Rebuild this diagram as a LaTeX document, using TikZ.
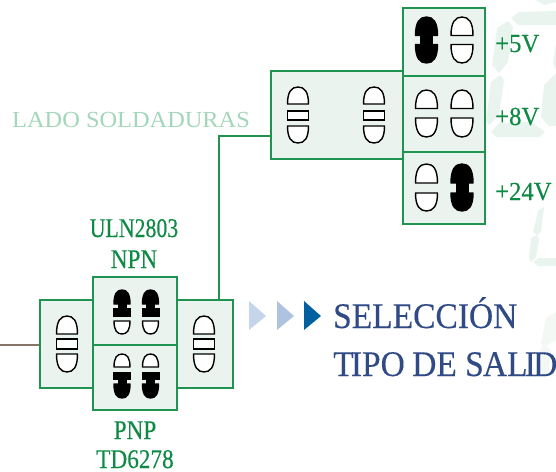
\documentclass[tikz,border=0pt]{standalone}
\usepackage{fontspec}
\setmainfont{Liberation Serif}
\newfontfamily\hvy[FakeBold=0.25]{Liberation Serif}
\definecolor{grn}{HTML}{1F9450}
\definecolor{txtgrn}{HTML}{0E8A45}
\definecolor{pale}{HTML}{EBF3EE}
\definecolor{seg}{HTML}{EAF4EF}
\definecolor{segf}{HTML}{F3F8F5}
\definecolor{blu}{HTML}{2F4A85}
\definecolor{brn}{HTML}{857568}
\definecolor{lado}{HTML}{A3D6BA}
\definecolor{tria}{HTML}{C5D5EA}
\definecolor{trib}{HTML}{AEC3DF}
\definecolor{tric}{HTML}{0060A0}
\newcommand{\dome}[5]{\draw[#5,line width=1.4pt,line join=round] ({#1-#2},#3) .. controls ({#1-#2},{#3+0.72*(#4-#3)}) and ({#1-0.62*#2},#4) .. (#1,#4) .. controls ({#1+0.62*#2},#4) and ({#1+#2},{#3+0.72*(#4-#3)}) .. ({#1+#2},#3) -- cycle;}
\newcommand{\threepart}[1]{%
  \dome{#1}{10.5}{\ya}{\yb}{fill=white,draw=black}
  \draw[fill=white,draw=black,line width=1.4pt] ({#1-10.5},\yc) rectangle ({#1+10.5},\yd);
  \dome{#1}{10.5}{\ye}{\yf}{fill=white,draw=black}}
\newcommand{\whitepair}[5]{%
  \dome{#1}{11}{#3}{#2}{fill=white,draw=black}
  \dome{#1}{11}{#4}{#5}{fill=white,draw=black}}
\newcommand{\blackpair}[5]{%
  \fill[black] ({#1-6.5},#3) rectangle ({#1+6.5},#4);
  \dome{#1}{11}{#3}{#2}{fill=black,draw=black}
  \dome{#1}{11}{#4}{#5}{fill=black,draw=black}}
\tikzset{
  boxs/.style={draw=grn,fill=pale,line width=1.4pt,inner sep=0pt},
  wire/.style={draw=grn,line width=1.4pt},
  vlab/.style={text=txtgrn,inner sep=0pt,font=\hvy\fontsize{26}{26}\selectfont,anchor=base west,xscale=0.95,transform shape},
  caplab/.style={text=txtgrn,inner sep=0pt,font=\hvy\fontsize{27}{27}\selectfont,anchor=base,xscale=0.86,transform shape},
  ttl/.style={text=blu,inner sep=0pt,font=\hvy\fontsize{36}{36}\selectfont,anchor=base west,xscale=0.93,transform shape},
}
\begin{document}
\begin{tikzpicture}[x=1pt,y=-1pt]
\useasboundingbox (0,0) rectangle (556,471);
% faint seven-segment background
\fill[seg] (508,21)--(513,27)--(508,62)--(499,73)--(492,65)--(497,28)--cycle;
\fill[seg] (500,75)--(504,80)--(499,115)--(489,125)--(486,120)--(491,82)--cycle;
\fill[seg] (491,132)--(499,123)--(531,122)--(545,132)--(539,137)--(496,137)--cycle;
\fill[seg] (511,18)--(519,12)--(556,11)--(556,25)--(518,25)--cycle;
\fill[seg] (541,117)--(544,85)--(556,73)--(556,126)--(549,126)--cycle;
\fill[seg] (553,63)--(556,43)--(556,70)--cycle;
\fill[seg] (536,0)--(556,0)--(556,2)--(544,5)--cycle;
\fill[seg] (533,232)--(538,211)--(544,207)--(541,232)--(537,235)--cycle;
\fill[seg] (529,258)--(531,238)--(537,235)--(539,240)--(536,257)--(531,262)--cycle;
\fill[seg] (533,262)--(539,258)--(556,258)--(556,266)--(538,266)--cycle;
\fill[segf] (541,343)--(546,318)--(556,312)--(556,340)--(544,347)--cycle;
\fill[segf] (538,373)--(539,353)--(544,345)--(551,350)--(548,377)--cycle;
% boxes
\node[boxs,minimum width=132pt,minimum height=88pt] (mid) at (337,115) {};
\node[boxs,minimum width=82pt,minimum height=68pt] (v5) at (444,42) {};
\node[boxs,minimum width=82pt,minimum height=76pt] (v8) at (444,114) {};
\node[boxs,minimum width=82pt,minimum height=72pt] (v24) at (444,188) {};
\node[boxs,minimum width=56pt,minimum height=88pt] (lft) at (68,344) {};
\node[boxs,minimum width=56pt,minimum height=88pt] (rgt) at (205,344) {};
\node[boxs,minimum width=84pt,minimum height=68pt] (npn) at (135,311) {};
\node[boxs,minimum width=84pt,minimum height=65pt] (pnp) at (135,377.5) {};
% connectors
\coordinate (inp) at (0,345);
\draw[draw=brn,line width=2.4pt] (inp) -- (inp -| lft.west);
\draw[wire] ([xshift=14pt]rgt.north) |- ([yshift=-21pt]mid.west);
% three-part jumpers
\def\ya{104}\def\yb{87}\def\yc{111}\def\yd{120}\def\ye{126}\def\yf{143}
\threepart{298}\threepart{374}
\def\ya{334}\def\yb{316}\def\yc{339}\def\yd{349}\def\ye{354}\def\yf{372}
\threepart{67}\threepart{204}
% voltage jumpers
\blackpair{426.5}{17}{35.5}{44.5}{63}
\whitepair{462}{17}{35.5}{44.5}{63}
\whitepair{426.5}{90}{108.5}{118}{137}
\whitepair{462}{90}{108.5}{118}{137}
\whitepair{426.5}{164}{183}{193}{211}
\blackpair{462}{164}{183}{193}{211}
% NPN / PNP jumpers
\foreach \c in {122,150.5}{
  \dome{\c}{8}{304}{290}{fill=black,draw=black}
  \fill[black] ({\c-4.5},304) rectangle ({\c+4.5},309);
  \fill[black] ({\c-9},308) rectangle ({\c+9},317);
  \dome{\c}{8}{321}{334}{fill=white,draw=black}
  \dome{\c}{8}{367}{354}{fill=white,draw=black}
  \fill[black] ({\c-9},372) rectangle ({\c+9},380);
  \fill[black] ({\c-4.5},380) rectangle ({\c+4.5},385);
  \dome{\c}{8}{384}{398}{fill=black,draw=black}
}
% labels
\node[vlab] (l5) at (495,52) {+5V};
\node[vlab] (l8) at (495,125) {+8V};
\node[vlab] (l24) at (495,200) {+24V};
\node[caplab,xscale=0.94] (uln) at (134,237) {ULN2803};
\node[caplab] (npnl) at (134,268) {NPN};
\node[caplab] (pnpl) at (135,439) {PNP};
\node[caplab] (tdl) at (135,468) {TD6278};
\node[text=lado,inner sep=0pt,font=\fontsize{23}{23}\selectfont,anchor=base west,xscale=1.06,transform shape] (ladol) at (12,127) {LADO SOLDADURAS};
% arrows
\fill[tria] (249,301)--(266,316)--(249,330)--cycle;
\fill[trib] (277,301)--(294,316)--(277,330)--cycle;
\fill[tric] (304,301)--(321,316)--(304,330)--cycle;
% title
\node[ttl] (t1) at (333,328) {SELECCIÓN};
\node[ttl] (t2) at (333,376) {T\kern-3pt IPO\kern-1pt\ DE S\kern-1pt AL\kern-3pt I\kern-3pt DA};
\end{tikzpicture}
\end{document}
